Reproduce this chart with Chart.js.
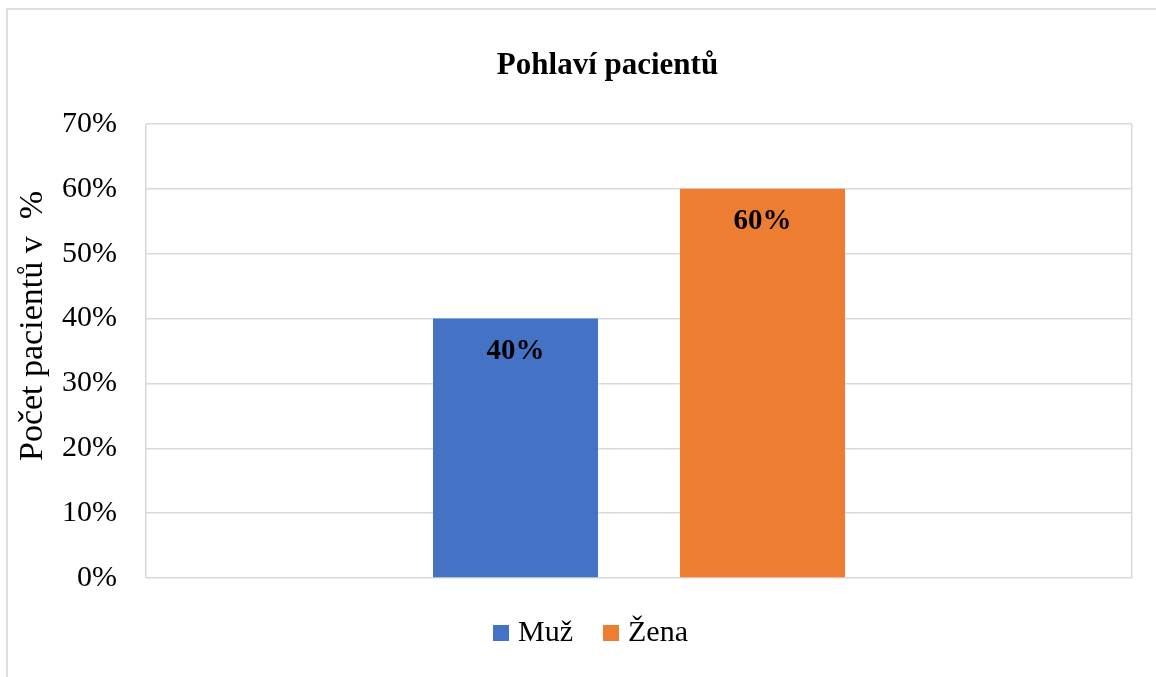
<!DOCTYPE html>
<html><head><meta charset="utf-8">
<script src="https://cdn.jsdelivr.net/npm/chart.js@4"></script>
<style>
html,body{margin:0;padding:0;background:#fff;overflow:hidden;}
#wrap{position:relative;width:1156px;height:677px;overflow:hidden;}
#frame{position:absolute;left:6px;top:8px;width:1400px;height:900px;border:2px solid #dedede;box-sizing:border-box;}
canvas{position:absolute;left:0;top:0;}
</style></head><body>
<div id="wrap"><div id="frame"></div><canvas id="c" width="1156" height="677"></canvas></div>
<script>
// ---- data ----
const chartTitle = 'Pohlaví pacientů';
const yAxisTitle = 'Počet pacientů v  %';
const categories = [''];
const seriesNames = ['Muž', 'Žena'];
const muzValues = [40];
const zenaValues = [60];
const seriesColors = ['#4472C4', '#ED7D31'];
const yMin = 0, yMax = 70, yStep = 10;

const FONT = "'Liberation Serif', 'Times New Roman', serif";

// legend swatch: 16x16 square placed at the right part of a 22px wide image
function makeSwatch(color) {
  const c = document.createElement('canvas');
  c.width = 22; c.height = 16;
  const g = c.getContext('2d');
  g.fillStyle = color;
  g.fillRect(6, 0, 16, 16);
  return c;
}

const valueLabels = {
  id: 'valueLabels',
  afterDatasetsDraw(chart) {
    const ctx = chart.ctx;
    ctx.save();
    ctx.font = 'bold 29px ' + FONT;
    ctx.fillStyle = '#000';
    ctx.textAlign = 'center';
    ctx.textBaseline = 'middle';
    chart.data.datasets.forEach((ds, i) => {
      chart.getDatasetMeta(i).data.forEach((el, j) => {
        ctx.fillText(ds.data[j] + '%', el.x, el.y + 33);
      });
    });
    ctx.restore();
  }
};

const axisTitle = {
  id: 'axisTitle',
  afterDraw(chart) {
    const ctx = chart.ctx;
    ctx.save();
    ctx.translate(33, 326);
    ctx.rotate(-Math.PI / 2);
    ctx.font = '34px ' + FONT;
    ctx.fillStyle = '#000';
    ctx.textAlign = 'center';
    ctx.textBaseline = 'middle';
    ctx.fillText(yAxisTitle, 0, 0);
    ctx.restore();
  }
};

const placement = {
  id: 'placement',
  afterLayout(chart) {
    const t = chart.titleBlock;
    const dT = 607.5 - (t.left + t.right) / 2;
    t.left += dT; t.right += dT;
    const lg = chart.legend;
    const pad = lg.options.labels.padding;
    const start = (lg.left + pad + lg.right - lg.lineWidths[0]) / 2;
    const dL = 493 - start;
    lg.left += dL; lg.right += dL;
  }
};

new Chart(document.getElementById('c'), {
  type: 'bar',
  data: {
    labels: categories,
    datasets: [
      { label: seriesNames[0], data: muzValues, backgroundColor: seriesColors[0], borderWidth: 0, pointStyle: makeSwatch(seriesColors[0]) },
      { label: seriesNames[1], data: zenaValues, backgroundColor: seriesColors[1], borderWidth: 0, pointStyle: makeSwatch(seriesColors[1]) }
    ]
  },
  options: {
    responsive: false,
    animation: false,
    events: [],
    layout: { padding: { top: 0, right: 24, bottom: 19, left: 0 } },
    datasets: { bar: { barPercentage: 0.668, categoryPercentage: 0.501 } },
    plugins: {
      tooltip: { enabled: false },
      title: {
        display: true, text: chartTitle, color: '#000',
        font: { family: FONT, size: 31, weight: 'bold' },
        padding: { top: 47, bottom: 39.8 }
      },
      legend: {
        position: 'bottom',
        labels: {
          color: '#000', usePointStyle: true, boxWidth: 10, boxHeight: 16, padding: 30,
          font: { family: FONT, size: 30 }
        }
      }
    },
    scales: {
      x: {
        type: 'category',
        ticks: { display: false },
        grid: { offset: true, color: '#d9d9d9', lineWidth: 1.5, drawTicks: false },
        border: { display: false },
        afterFit(s) { s.height = 10; }
      },
      y: {
        min: yMin, max: yMax,
        ticks: { stepSize: yStep, color: '#000', padding: 29, font: { family: FONT, size: 30 },
                 callback: v => v + '%' },
        grid: { color: '#d9d9d9', lineWidth: 1.5, drawTicks: false },
        border: { display: false },
        afterFit(s) { s.width = 146; }
      }
    }
  },
  plugins: [valueLabels, axisTitle, placement]
});
</script>
</body></html>
